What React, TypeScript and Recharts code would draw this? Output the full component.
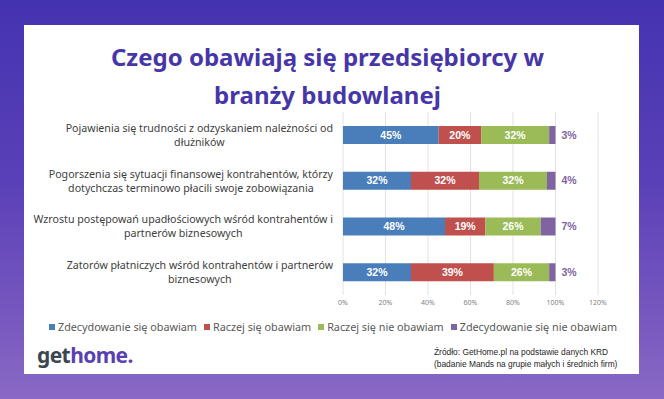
import React from 'react';
import {
  BarChart,
  Bar,
  XAxis,
  YAxis,
  CartesianGrid,
  LabelList,
} from 'recharts';

const categories = [
  'Pojawienia się trudności z odzyskaniem należności od\ndłużników',
  'Pogorszenia się sytuacji finansowej kontrahentów, którzy\ndotychczas terminowo płacili swoje zobowiązania',
  'Wzrostu postępowań upadłościowych wśród kontrahentów i\npartnerów biznesowych',
  'Zatorów płatniczych wśród kontrahentów i partnerów\nbiznesowych',
];

const seriesNames = [
  'Zdecydowanie się obawiam',
  'Raczej się obawiam',
  'Raczej się nie obawiam',
  'Zdecydowanie się nie obawiam',
];

const strongly = [45, 32, 48, 32];
const rather = [20, 32, 19, 39];
const ratherNot = [32, 32, 26, 26];
const stronglyNot = [3, 4, 7, 3];

const xTicks = [0, 20, 40, 60, 80, 100, 120];

const colors = ['#4a7ebb', '#c0504d', '#9bbb59', '#8064a2'];
const keys = ['s1', 's2', 's3', 's4'];

const data = categories.map((name, i) => ({
  name,
  s1: strongly[i],
  s2: rather[i],
  s3: ratherNot[i],
  s4: stronglyNot[i],
}));

const CategoryTick = (props: any) => {
  const { y, payload } = props;
  const lines = String(payload.value).split('\n');
  return (
    <foreignObject x={0} y={y - 20} width={333} height={40}>
      <div
        style={{
          display: 'flex',
          justifyContent: 'flex-end',
          alignItems: 'center',
          height: '100%',
        }}
      >
        <div
          style={{
            textAlign: 'center',
            fontFamily: '"Noto Sans", sans-serif',
            fontSize: 10.65,
            lineHeight: '14px',
            color: '#404040',
            whiteSpace: 'nowrap',
          }}
        >
          {lines.map((l, i) => (
            <div key={i}>{l}</div>
          ))}
        </div>
      </div>
    </foreignObject>
  );
};

export default function App() {
  return (
    <div
      style={{
        position: 'fixed',
        left: 0,
        top: 0,
        width: 664,
        height: 399,
        overflow: 'hidden',
        background: 'linear-gradient(180deg, #4433b0 0%, #5a40b8 45%, #7c5cc0 85%, #8a6ac4 100%)',
      }}
    >
      <div
        style={{
          position: 'absolute',
          left: 24,
          top: 25,
          width: 615,
          height: 349,
          background: '#ffffff',
        }}
      />
      <div
        style={{
          position: 'absolute',
          left: 0,
          top: 38,
          width: 655,
          textAlign: 'center',
          fontFamily: '"Noto Sans", sans-serif',
          fontWeight: 700,
          fontSize: 24,
          lineHeight: '38px',
          color: '#4636a8',
        }}
      >
        <div>Czego obawiają się przedsiębiorcy w</div>
        <div>branży budowlanej</div>
      </div>
      <div style={{ position: 'absolute', left: 0, top: 0 }}>
        <BarChart
          width={664}
          height={399}
          data={data}
          layout="vertical"
          margin={{ top: 112, right: 66, left: 0, bottom: 84 }}
          barSize={18}
        >
          <CartesianGrid horizontal={false} stroke="#e2e2e2" />
          <XAxis
            type="number"
            domain={[0, 120]}
            ticks={xTicks}
            tickFormatter={(v) => `${v}%`}
            axisLine={false}
            tickLine={false}
            tickSize={0}
            tickMargin={5}
            height={20}
            tick={{ fill: '#7f7f7f', fontSize: 7, fontFamily: '"Noto Sans", sans-serif' }}
          />
          <YAxis
            type="category"
            dataKey="name"
            width={343}
            axisLine={false}
            tickLine={false}
            tick={<CategoryTick />}
          />
          {keys.map((k, i) => (
            <Bar
              key={k}
              dataKey={k}
              name={seriesNames[i]}
              stackId="a"
              fill={colors[i]}
              isAnimationActive={false}
            >
              <LabelList
                dataKey={k}
                position={i === 3 ? 'right' : 'center'}
                offset={6}
                formatter={(v: any) => `${v}%`}
                fill={i === 3 ? colors[3] : '#ffffff'}
                style={{
                  fontFamily: '"Liberation Sans", Arial, sans-serif',
                  fontWeight: 700,
                  fontSize: 10.5,
                }}
              />
            </Bar>
          ))}
        </BarChart>
      </div>
      <div
        style={{
          position: 'absolute',
          left: 0,
          top: 319,
          width: 666,
          display: 'flex',
          justifyContent: 'center',
          gap: 7,
          fontFamily: '"Noto Sans", sans-serif',
          fontSize: 10.8,
          lineHeight: '16px',
          color: '#595959',
          whiteSpace: 'nowrap',
        }}
      >
        {seriesNames.map((n, i) => (
          <div key={n} style={{ display: 'flex', alignItems: 'center' }}>
            <span
              style={{
                display: 'inline-block',
                width: 6,
                height: 6,
                background: colors[i],
                marginRight: 3,
              }}
            />
            <span>{n}</span>
          </div>
        ))}
      </div>
      <div
        style={{
          position: 'absolute',
          left: 37,
          top: 342,
          fontFamily: '"Noto Sans", sans-serif',
          fontWeight: 700,
          fontSize: 21,
          lineHeight: '26px',
          letterSpacing: -0.6,
        }}
      >
        <span style={{ color: '#3b4750' }}>get</span>
        <span style={{ color: '#5a3fb4' }}>home.</span>
      </div>
      <div
        style={{
          position: 'absolute',
          left: 434,
          top: 346,
          fontFamily: '"Liberation Sans", sans-serif',
          fontSize: 8.4,
          lineHeight: '12px',
          color: '#262626',
          whiteSpace: 'nowrap',
        }}
      >
        <div>Źródło: GetHome.pl na podstawie danych KRD</div>
        <div>(badanie Mands na grupie małych i średnich firm)</div>
      </div>
    </div>
  );
}
